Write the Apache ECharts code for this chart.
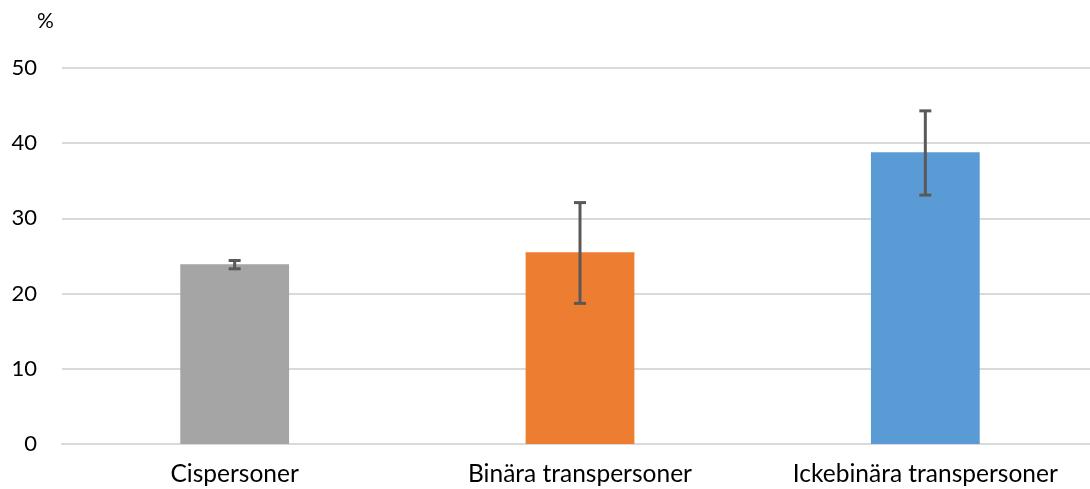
<!DOCTYPE html>
<html>
<head>
<meta charset="utf-8">
<script src="https://cdn.jsdelivr.net/npm/echarts@6/dist/echarts.min.js"></script>
<style>
  html, body { margin: 0; padding: 0; background: #fff; }
  #chart { width: 1090px; height: 489px; }
</style>
</head>
<body>
<div id="chart"></div>
<script>
const categories = ['Cispersoner', 'Binära transpersoner', 'Ickebinära transpersoner']
const values = [23.9, 25.5, 38.8]
const errLow = [23.3, 18.7, 33.1]
const errHigh = [24.4, 32.1, 44.3]
const barColors = ['#A5A5A5', '#ED7D31', '#5B9BD5']
const yTicks = [0, 10, 20, 30, 40, 50]

const chart = echarts.init(document.getElementById('chart'), null, { renderer: 'canvas' })

// felstaplar ritas som custom-serie
const renderError = (params, api) => {
  const x = api.value(0)
  const lo = api.coord([x, api.value(1)])
  const hi = api.coord([x, api.value(2)])
  const half = 6
  const style = { stroke: '#595959', lineWidth: 3 }
  return {
    type: 'group',
    children: [
      { type: 'line', shape: { x1: lo[0], y1: lo[1], x2: hi[0], y2: hi[1] }, style },
      { type: 'line', shape: { x1: lo[0] - half, y1: lo[1], x2: lo[0] + half, y2: lo[1] }, style },
      { type: 'line', shape: { x1: hi[0] - half, y1: hi[1], x2: hi[0] + half, y2: hi[1] }, style }
    ]
  }
}

const option = {
  animation: false,
  textStyle: { fontFamily: 'Lato' },
  graphic: [{
    type: 'text', left: 37, top: 11,
    style: { text: '%', fontSize: 21, fontFamily: 'Lato', fill: '#000' }
  }],
  grid: { left: 62, right: -8, top: 68, bottom: 45, outerBoundsMode: 'none' },
  xAxis: {
    type: 'category',
    data: categories,
    axisTick: { show: false },
    axisLine: { lineStyle: { color: '#D9D9D9', width: 2 } },
    axisLabel: { color: '#000', fontSize: 24.5, margin: 18, fontFamily: 'Lato' }
  },
  yAxis: {
    type: 'value',
    min: 0, max: 50, interval: 10,
    axisLine: { show: false },
    axisTick: { show: false },
    splitLine: { lineStyle: { color: '#D9D9D9', width: 2 } },
    axisLabel: {
      color: '#000', fontSize: 22, margin: 25, fontFamily: 'Lato',
      formatter: v => yTicks.includes(v) ? String(v) : ''
    }
  },
  series: [
    {
      type: 'bar',
      barWidth: '31.5%',
      data: values.map((v, i) => ({ value: v, itemStyle: { color: barColors[i] } }))
    },
    {
      type: 'custom',
      renderItem: renderError,
      data: categories.map((c, i) => [i, errLow[i], errHigh[i]]),
      encode: { x: 0, y: [1, 2] },
      z: 10
    }
  ]
}

chart.setOption(option)
</script>
</body>
</html>
